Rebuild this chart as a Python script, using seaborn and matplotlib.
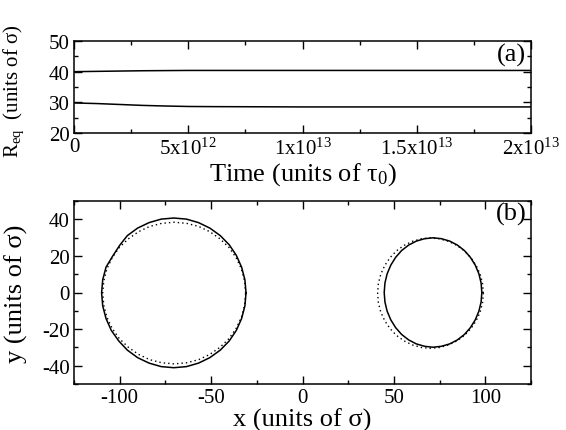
import numpy as np
import pandas as pd
import matplotlib
matplotlib.use("Agg")
import matplotlib.pyplot as plt
import seaborn as sns
from matplotlib.ticker import MultipleLocator, FixedLocator

# ---- panel (a) data ----
time = [0, 1e12, 2e12, 3e12, 4e12, 5e12, 6e12, 8e12, 1e13, 1.5e13, 2e13]
r_big = [40.0, 40.1, 40.2, 40.3, 40.35, 40.4, 40.4, 40.4, 40.4, 40.4, 40.4]
r_small = [29.8, 29.6, 29.3, 29.0, 28.8, 28.65, 28.6, 28.55, 28.5, 28.5, 28.5]
time_ticks = [0, 5e12, 1e13, 1.5e13, 2e13]
time_labels = ["0", r"5x10$^{12}$", r"1x10$^{13}$", r"1.5x10$^{13}$", r"2x10$^{13}$"]

# ---- panel (b) data: droplet contours ----
left_solid_x = [-30.9, -31.5, -33.3, -36.2, -40.1, -45.0, -50.7, -56.9, -63.5, -70.4,
                -77.3, -83.9, -90.2, -95.8, -100.0, -103.9, -107.5, -109.3, -109.9,
                -109.3, -107.5, -104.6, -100.5, -95.8, -90.2, -83.9, -77.3, -70.4,
                -63.5, -56.9, -50.7, -45.0, -40.1, -36.2, -33.3, -31.5, -30.9]
left_solid_y = [-0.2, 6.9, 13.8, 20.3, 26.1, 31.1, 35.2, 38.2, 40.1, 40.7,
                40.1, 38.2, 35.2, 31.1, 25.8, 19.8, 13.8, 6.9, -0.2,
                -7.3, -14.2, -20.7, -26.5, -31.5, -35.6, -38.6, -40.5, -41.1,
                -40.5, -38.6, -35.6, -31.5, -26.5, -20.7, -14.2, -7.3, -0.2]
left_dot_x = [-31.1, -31.7, -33.4, -36.3, -40.2, -45.1, -50.65, -56.8, -63.4, -70.2,
              -77.0, -83.6, -89.75, -95.3, -100.2, -104.1, -107.0, -108.7, -109.3,
              -108.7, -107.0, -104.1, -100.2, -95.3, -89.75, -83.6, -77.0, -70.2,
              -63.4, -56.8, -50.65, -45.1, -40.2, -36.3, -33.4, -31.7, -31.1]
left_dot_y = [-0.3, 6.4, 12.9, 19.05, 24.6, 29.3, 33.2, 36.1, 37.8, 38.4,
              37.8, 36.1, 33.2, 29.3, 24.6, 19.05, 12.9, 6.4, -0.3,
              -7.0, -13.5, -19.65, -25.2, -29.9, -33.8, -36.7, -38.4, -39.0,
              -38.4, -36.7, -33.8, -29.9, -25.2, -19.65, -13.5, -7.0, -0.3]
right_solid_x = [98.1, 97.7, 96.5, 94.5, 91.85, 88.6, 84.75, 80.5, 76.0, 71.4,
                 66.8, 62.3, 58.05, 54.2, 50.95, 48.3, 46.3, 45.1, 44.7,
                 45.1, 46.3, 48.3, 50.95, 54.2, 58.05, 62.3, 66.8, 71.4,
                 76.0, 80.5, 84.75, 88.6, 91.85, 94.5, 96.5, 97.7, 98.1]
right_solid_y = [0.0, 5.2, 10.2, 14.95, 19.2, 22.9, 25.9, 28.1, 29.4, 29.9,
                 29.4, 28.1, 25.9, 22.9, 19.2, 14.95, 10.2, 5.2, 0.0,
                 -5.2, -10.2, -14.95, -19.2, -22.9, -25.9, -28.1, -29.4, -29.9,
                 -29.4, -28.1, -25.9, -22.9, -19.2, -14.95, -10.2, -5.2, 0.0]
right_dot_x = [98.9, 98.5, 97.2, 95.0, 92.1, 88.6, 84.45, 79.9, 75.0, 70.0,
               65.0, 60.1, 55.55, 51.4, 47.9, 45.0, 42.8, 41.5, 41.1,
               41.5, 42.8, 45.0, 47.9, 51.4, 55.55, 60.1, 65.0, 70.0,
               75.0, 79.9, 84.45, 88.6, 92.1, 95.0, 97.2, 98.5, 98.9]
right_dot_y = [-0.35, 4.9, 9.95, 14.75, 19.05, 22.75, 25.75, 27.95, 29.35, 29.8,
               29.35, 27.95, 25.75, 22.75, 19.05, 14.75, 9.95, 4.9, -0.35,
               -5.6, -10.65, -15.45, -19.75, -23.45, -26.45, -28.65, -30.05, -30.5,
               -30.05, -28.65, -26.45, -23.45, -19.75, -15.45, -10.65, -5.6, -0.35]

sns.set_theme(style="ticks")
plt.rcParams["font.family"] = ["Liberation Serif", "DejaVu Serif"]
plt.rcParams["mathtext.fontset"] = "custom"
plt.rcParams["mathtext.rm"] = "Liberation Serif"
plt.rcParams["mathtext.it"] = "Liberation Serif"
plt.rcParams["mathtext.default"] = "regular"
plt.rcParams["axes.unicode_minus"] = False
plt.rcParams["axes.linewidth"] = 1.1
plt.rcParams["axes.edgecolor"] = "black"
plt.rcParams["xtick.color"] = "black"
plt.rcParams["ytick.color"] = "black"
plt.rcParams["text.color"] = "black"
plt.rcParams["axes.labelcolor"] = "black"

fig = plt.figure(figsize=(5.66, 4.31), dpi=100)
ax1 = fig.add_axes([74/566, 1-134/431, 457/566, 92/431])
ax2 = fig.add_axes([74/566, 1-385/431, 457/566, 183/431])

dfa = pd.DataFrame({"t": time * 2, "r": r_big + r_small,
                    "drop": ["big"] * len(time) + ["small"] * len(time)})
sns.lineplot(data=dfa, x="t", y="r", units="drop", estimator=None, sort=False,
             color="black", lw=1.1, ax=ax1, legend=False)
ax1.set_xlim(0, 2e13)
ax1.set_ylim(20, 50)
ax1.xaxis.set_major_locator(FixedLocator(time_ticks))
ax1.set_xticklabels(time_labels)
ax1.xaxis.set_minor_locator(MultipleLocator(2.5e12))
ax1.yaxis.set_major_locator(MultipleLocator(10))
ax1.yaxis.set_minor_locator(MultipleLocator(5))
ax1.set_xlabel("Time (units of τ$_0$)", fontsize=19, labelpad=1)
ax1.set_ylabel("R$_{eq}$  (units of σ)", fontsize=15)
ax1.yaxis.set_label_coords(-0.105, 0.46)
ax1.text(0.99, 0.85, "(a)", transform=ax1.transAxes, ha="right", va="center", fontsize=19)

def contour(ax, xs, ys, **kw):
    df = pd.DataFrame({"x": xs, "y": ys})
    sns.lineplot(data=df, x="x", y="y", sort=False, estimator=None, ax=ax,
                 color="black", **kw)

contour(ax2, left_solid_x, left_solid_y, lw=1.1)
contour(ax2, left_dot_x, left_dot_y, lw=1.0, linestyle=(0, (1, 2.2)))
contour(ax2, right_solid_x, right_solid_y, lw=1.1)
contour(ax2, right_dot_x, right_dot_y, lw=1.0, linestyle=(0, (1, 2.2)))
ax2.set_xlim(-125, 125)
ax2.set_ylim(-50, 50)
ax2.xaxis.set_major_locator(MultipleLocator(50))
ax2.xaxis.set_minor_locator(MultipleLocator(25))
ax2.yaxis.set_major_locator(MultipleLocator(20))
ax2.yaxis.set_minor_locator(MultipleLocator(10))
ax2.set_xlabel("x (units of σ)", fontsize=19, labelpad=0)
ax2.set_ylabel("y (units of σ)", fontsize=19)
ax2.yaxis.set_label_coords(-0.1, 0.5)
ax2.text(0.99, 0.93, "(b)", transform=ax2.transAxes, ha="right", va="center", fontsize=19)

for ax in (ax1, ax2):
    ax.tick_params(which="both", direction="in", top=True, right=True, labelsize=15,
                   colors="black", pad=3)
    ax.tick_params(which="major", length=6, width=1)
    ax.tick_params(which="minor", length=3, width=1)
    for s in ax.spines.values():
        s.set_visible(True)
        s.set_color("black")

fig.savefig("out.png", dpi=100)
